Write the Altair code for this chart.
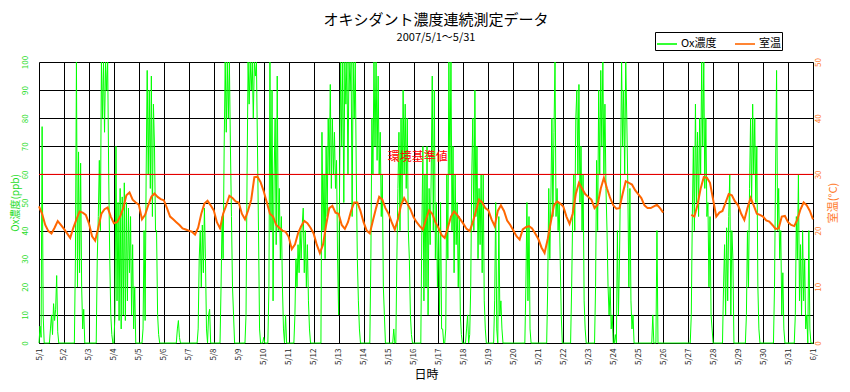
import altair as alt
import pandas as pd

JP = "Noto Sans CJK JP"
GREEN = "#00ff00"
GREEN_TXT = "#1fdc1f"
ORANGE = "#ff6600"
ORANGE_TXT = "#ff7a2a"

TITLE = "オキシダント濃度連続測定データ"
SUBTITLE = "2007/5/1～5/31"
SERIES = ["Ox濃度", "室温"]
DAY_LABELS = [f"5/{d}" for d in range(1, 32)] + ["6/1"]
LIMIT = 60
LIMIT_LABEL = "環境基準値"
LIMIT_LABEL_HOUR = 364

# hourly Ox concentration (ppb), 0h..23h for each day
ox_0501 = [0, 6, 2, 77, 10, 0, 0, 0, 0, 0, 0, 5, 10, 3, 14, 8, 12, 24, 4, 0, 0, 0, 0, 0]
ox_0502 = [0, 0, 0, 0, 0, 0, 0, 0, 0, 0, 0, 30, 100, 20, 68, 25, 64, 20, 5, 12, 0, 0, 0, 0]
ox_0503 = [0, 0, 0, 0, 0, 0, 0, 0, 30, 45, 65, 40, 100, 80, 100, 75, 100, 90, 100, 60, 30, 10, 3, 0]
ox_0504 = [0, 10, 70, 15, 50, 8, 55, 5, 52, 10, 57, 8, 50, 15, 48, 25, 45, 10, 35, 5, 20, 0, 0, 0]
ox_0505 = [0, 0, 0, 0, 5, 40, 8, 60, 97, 60, 90, 55, 95, 45, 85, 70, 40, 40, 10, 3, 0, 0, 0, 0]
ox_0506 = [0, 0, 0, 0, 0, 0, 0, 0, 0, 0, 0, 0, 0, 5, 8, 2, 0, 0, 0, 0, 0, 0, 0, 0]
ox_0507 = [0, 0, 0, 0, 0, 0, 0, 0, 0, 5, 30, 40, 20, 42, 25, 48, 30, 5, 0, 10, 12, 0, 0, 0]
ox_0508 = [0, 0, 0, 0, 0, 0, 0, 20, 45, 30, 70, 100, 75, 100, 80, 100, 70, 45, 20, 10, 0, 0, 0, 0]
ox_0509 = [0, 0, 0, 0, 0, 0, 0, 10, 60, 100, 85, 100, 90, 100, 80, 100, 95, 100, 70, 40, 5, 0, 0, 0]
ox_0510 = [2, 0, 0, 0, 0, 20, 100, 40, 90, 15, 60, 80, 35, 95, 40, 55, 30, 45, 20, 5, 0, 10, 0, 0]
ox_0511 = [0, 0, 0, 0, 0, 0, 10, 30, 20, 35, 25, 40, 30, 42, 48, 25, 40, 20, 35, 15, 5, 0, 0, 0]
ox_0512 = [0, 0, 0, 0, 0, 0, 0, 0, 75, 40, 60, 30, 70, 45, 80, 60, 92, 55, 80, 60, 75, 55, 65, 30]
ox_0513 = [10, 60, 100, 70, 100, 50, 100, 85, 100, 60, 100, 90, 100, 45, 100, 80, 100, 60, 30, 15, 5, 0, 0, 0]
ox_0514 = [0, 0, 0, 0, 0, 0, 0, 30, 80, 60, 100, 70, 100, 65, 95, 60, 75, 45, 60, 20, 10, 0, 0, 0]
ox_0515 = [0, 0, 0, 0, 0, 5, 0, 0, 30, 55, 75, 40, 80, 50, 90, 60, 85, 55, 80, 40, 30, 10, 3, 0]
ox_0516 = [0, 0, 0, 0, 0, 0, 0, 0, 40, 70, 15, 60, 20, 70, 10, 55, 35, 60, 95, 40, 90, 30, 50, 20]
ox_0517 = [40, 10, 50, 5, 5, 0, 0, 5, 60, 30, 100, 60, 100, 40, 70, 25, 60, 35, 50, 20, 45, 10, 3, 0]
ox_0518 = [0, 0, 0, 5, 10, 0, 3, 20, 60, 80, 40, 90, 45, 70, 30, 55, 35, 60, 25, 60, 15, 5, 0, 0]
ox_0519 = [0, 0, 0, 0, 0, 0, 15, 50, 5, 0, 45, 10, 15, 5, 0, 0, 0, 0, 0, 0, 0, 0, 0, 0]
ox_0520 = [0, 0, 0, 0, 0, 0, 0, 0, 0, 0, 0, 0, 20, 50, 15, 45, 5, 0, 0, 0, 0, 0, 0, 0]
ox_0521 = [0, 0, 0, 0, 0, 0, 0, 0, 0, 20, 55, 30, 50, 80, 45, 75, 100, 45, 55, 40, 50, 30, 10, 0]
ox_0522 = [0, 0, 0, 0, 0, 0, 0, 0, 20, 45, 60, 40, 80, 90, 60, 92, 50, 70, 40, 60, 15, 5, 0, 0]
ox_0523 = [0, 0, 0, 0, 0, 0, 0, 20, 65, 40, 90, 60, 97, 70, 100, 60, 85, 55, 40, 20, 10, 20, 5, 10]
ox_0524 = [0, 0, 3, 0, 40, 10, 30, 60, 100, 70, 90, 60, 100, 80, 55, 20, 55, 15, 5, 10, 0, 0, 0, 0]
ox_0525 = [0, 0, 0, 0, 0, 0, 0, 0, 0, 0, 0, 0, 0, 0, 10, 0, 0, 0, 40, 0, 0, 0, 0, 0]
ox_0526 = [0, 0, 0, 0, 0, 0, 0, 0, 0, 0, 0, 0, 0, 0, 0, 0, 0, 0, 0, 0, 0, 0, 0, 0]
ox_0527 = [0, 0, 0, 10, 45, 70, 40, 85, 50, 75, 45, 80, 60, 100, 70, 100, 55, 80, 45, 50, 20, 45, 10, 5]
ox_0528 = [0, 0, 0, 0, 0, 0, 0, 0, 0, 0, 20, 35, 10, 41, 15, 45, 60, 10, 40, 30, 0, 0, 0, 0]
ox_0529 = [0, 0, 0, 0, 0, 0, 0, 0, 10, 40, 20, 55, 80, 50, 85, 60, 80, 50, 70, 20, 5, 0, 0, 0]
ox_0530 = [0, 0, 0, 0, 0, 0, 0, 0, 0, 0, 0, 20, 60, 97, 40, 55, 30, 40, 10, 25, 5, 0, 0, 0]
ox_0531 = [0, 0, 0, 0, 0, 0, 0, 10, 45, 30, 60, 15, 35, 10, 40, 15, 30, 5, 10, 0, 40, 5, 0, 0]
ox_0601 = [0]

# room temperature (deg C), every 3 hours (0h, 3h, ... 21h); None = no data
tmp_0501 = [24.3, 23.0, 21.0, 19.9, 19.5, 20.5, 21.7, 21.0]
tmp_0502 = [20.3, 19.5, 18.7, 20.5, 22.0, 23.4, 23.2, 22.8]
tmp_0503 = [21.3, 19.0, 18.2, 20.5, 23.0, 23.8, 24.1, 22.5]
tmp_0504 = [21.3, 21.5, 22.5, 24.0, 26.3, 26.8, 25.5, 25.0]
tmp_0505 = [24.6, 22.0, 22.8, 24.5, 26.0, 26.6, 26.0, 25.6]
tmp_0506 = [25.4, 24.0, 22.5, 22.0, 21.5, 21.0, 20.4, 20.2]
tmp_0507 = [20.0, 19.8, 19.3, 20.5, 23.0, 24.8, 25.3, 24.5]
tmp_0508 = [23.6, 21.5, 20.4, 23.0, 24.5, 26.2, 25.8, 25.2]
tmp_0509 = [25.0, 23.0, 22.0, 23.6, 25.5, 29.5, 29.6, 28.6]
tmp_0510 = [27.0, 25.0, 23.0, 22.5, 21.0, 20.5, 20.0, 19.8]
tmp_0511 = [18.9, 16.7, 17.5, 19.5, 20.8, 21.7, 21.3, 20.5]
tmp_0512 = [19.5, 17.5, 16.0, 17.5, 21.0, 24.0, 24.4, 23.2]
tmp_0513 = [23.0, 21.0, 20.3, 21.5, 23.5, 25.0, 25.0, 23.5]
tmp_0514 = [21.5, 20.0, 19.5, 21.8, 24.0, 26.0, 25.5, 24.0]
tmp_0515 = [23.0, 21.5, 20.2, 22.0, 24.5, 25.8, 24.8, 23.8]
tmp_0516 = [22.4, 21.5, 20.8, 20.2, 22.0, 23.6, 23.0, 21.5]
tmp_0517 = [20.5, 19.2, 18.7, 20.5, 22.5, 23.4, 22.8, 22.0]
tmp_0518 = [21.2, 20.3, 19.9, 21.5, 23.5, 25.5, 25.0, 24.0]
tmp_0519 = [23.6, 22.0, 20.8, 23.5, 24.5, 23.5, 21.8, 21.0]
tmp_0520 = [20.0, 19.0, 18.4, 20.2, 20.6, 20.8, 20.4, 19.5]
tmp_0521 = [18.5, 17.0, 16.0, 18.5, 21.5, 24.5, 25.2, 24.8]
tmp_0522 = [24.3, 22.5, 21.2, 23.0, 26.5, 28.5, 27.5, 26.5]
tmp_0523 = [26.0, 25.5, 24.0, 24.6, 27.5, 29.4, 27.5, 25.8]
tmp_0524 = [24.5, 23.9, 24.0, 26.5, 28.8, 28.5, 28.2, 27.2]
tmp_0525 = [26.5, 25.8, 24.5, 24.0, 24.0, 24.3, 24.6, 24.0]
tmp_0526 = [23.2, None, None, None, None, None, None, None]
tmp_0527 = [None, 22.8, 22.5, 24.6, 27.5, 29.5, 29.4, 28.5]
tmp_0528 = [25.5, 22.5, 23.2, 23.5, 25.0, 26.5, 26.3, 25.2]
tmp_0529 = [24.5, 23.0, 21.9, 24.0, 25.8, 24.5, 23.0, 22.8]
tmp_0530 = [22.5, 21.8, 21.6, 21.0, 20.3, 20.4, 22.5, 22.6]
tmp_0531 = [21.5, 21.0, 20.8, 22.0, 23.8, 25.0, 24.5, 23.5]
tmp_0601 = [22.0]

OX_DAYS = [ox_0501, ox_0502, ox_0503, ox_0504, ox_0505, ox_0506, ox_0507, ox_0508,
           ox_0509, ox_0510, ox_0511, ox_0512, ox_0513, ox_0514, ox_0515, ox_0516,
           ox_0517, ox_0518, ox_0519, ox_0520, ox_0521, ox_0522, ox_0523, ox_0524,
           ox_0525, ox_0526, ox_0527, ox_0528, ox_0529, ox_0530, ox_0531, ox_0601]
TMP_DAYS = [tmp_0501, tmp_0502, tmp_0503, tmp_0504, tmp_0505, tmp_0506, tmp_0507, tmp_0508,
            tmp_0509, tmp_0510, tmp_0511, tmp_0512, tmp_0513, tmp_0514, tmp_0515, tmp_0516,
            tmp_0517, tmp_0518, tmp_0519, tmp_0520, tmp_0521, tmp_0522, tmp_0523, tmp_0524,
            tmp_0525, tmp_0526, tmp_0527, tmp_0528, tmp_0529, tmp_0530, tmp_0531, tmp_0601]

ox_rows = []
for d, vals in enumerate(OX_DAYS):
    for h, v in enumerate(vals):
        ox_rows.append({"h": d * 24 + h, "v": v, "s": SERIES[0]})
ox_df = pd.DataFrame(ox_rows)

tmp_rows = []
seg = 0
prev_missing = False
for d, vals in enumerate(TMP_DAYS):
    for k, v in enumerate(vals):
        if v is None:
            prev_missing = True
            continue
        if prev_missing:
            seg += 1
            prev_missing = False
        tmp_rows.append({"h": d * 24 + k * 3, "t": v, "s": SERIES[1], "seg": seg})
tmp_df = pd.DataFrame(tmp_rows)

W, H = 774, 281
NH = 24 * (len(DAY_LABELS) - 1)
label_array = "[" + ",".join(f"'{s}'" for s in DAY_LABELS) + "]"

x_enc = alt.X(
    "h:Q",
    scale=alt.Scale(domain=[0, NH], nice=False, zero=False),
    axis=alt.Axis(
        values=list(range(0, NH + 1, 24)),
        labelExpr=f"{label_array}[round(datum.value/24)]",
        labelAngle=270, labelAlign="right", labelBaseline="middle",
        labelFontSize=8, labelColor="#222222", labelPadding=5, labelFont=JP,
        labelOverlap=False, labelFlush=False,
        ticks=False, tickSize=0, domain=True, domainColor="black", domainWidth=1,
        grid=True, gridColor="black", gridWidth=1, gridOpacity=1,
        title="日時", titleFontSize=12, titleFontWeight="normal", titleColor="black",
        titleFont=JP, titleY=31, titleBaseline="middle",
    ),
)

y_left = alt.Y(
    "v:Q",
    scale=alt.Scale(domain=[0, 100], nice=False, zero=True),
    axis=alt.Axis(
        values=list(range(0, 101, 10)), orient="left",
        labelAngle=270, labelAlign="center", labelBaseline="bottom",
        labelFontSize=8, labelColor=GREEN_TXT, labelPadding=10, labelFont=JP,
        labelFlush=False, labelOverlap=False,
        ticks=False, tickSize=0, domain=False,
        grid=True, gridColor="black", gridWidth=1, gridOpacity=1,
        title="Ox濃度(ppb)", titleColor=GREEN_TXT, titleFontSize=10,
        titleFontWeight="normal", titleFont=JP, titleAngle=270, titlePadding=1,
    ),
)

y_right = alt.Y(
    "t:Q",
    scale=alt.Scale(domain=[0, 50], nice=False, zero=True),
    axis=alt.Axis(
        values=list(range(0, 51, 10)), orient="right",
        labelAngle=270, labelAlign="center", labelBaseline="top",
        labelFontSize=8, labelColor=ORANGE_TXT, labelPadding=1, labelFont=JP,
        labelFlush=False, labelOverlap=False,
        ticks=False, tickSize=0, domain=False, grid=False,
        title="室温(°C)", titleColor=ORANGE_TXT, titleFontSize=11,
        titleFontWeight="normal", titleFont=JP, titleAngle=270, titlePadding=16,
    ),
)

legend = alt.Legend(
    orient="none", legendX=616, legendY=-30, direction="horizontal", title=None,
    symbolType="stroke", symbolSize=400, symbolStrokeWidth=1.6,
    labelFontSize=11, labelFont=JP, labelColor="black", labelOffset=3,
    strokeColor="black", fillColor="white", padding=1, columnPadding=14,
)
color_enc = alt.Color("s:N", scale=alt.Scale(domain=SERIES, range=[GREEN, ORANGE]), legend=legend)

ox_line = alt.Chart(ox_df).mark_line(strokeWidth=1).encode(x=x_enc, y=y_left, color=color_enc)

limit_df = pd.DataFrame({"v": [LIMIT]})
limit_rule = alt.Chart(limit_df).mark_rule(color="#ff0000", strokeWidth=1).encode(y=y_left)

label_df = pd.DataFrame({"h": [LIMIT_LABEL_HOUR], "v": [LIMIT], "txt": [LIMIT_LABEL]})
limit_text = alt.Chart(label_df).mark_text(
    color="#ff0000", fontSize=12, font=JP, dy=-17, align="center", baseline="middle"
).encode(x=x_enc, y=y_left, text="txt:N")

tmp_line = alt.Chart(tmp_df).mark_line(strokeWidth=2).encode(
    x=x_enc, y=y_right, color=color_enc, detail="seg:N"
)

left = alt.layer(ox_line, limit_rule, limit_text)
chart = (
    alt.layer(left, tmp_line)
    .resolve_scale(y="independent")
    .properties(
        width=W, height=H,
        autosize=alt.AutoSizeParams(type="none"),
        padding={"left": 31, "top": 54, "right": 29, "bottom": 40},
        title=alt.TitleParams(
            text=TITLE, subtitle=SUBTITLE, fontSize=15, fontWeight="normal",
            subtitleFontSize=11, anchor="middle", frame="group", dx=10, offset=-11,
            subtitlePadding=4, color="black", subtitleColor="black",
            font=JP, subtitleFont=JP,
        ),
    )
    .configure_view(stroke="#888888")
    .configure(font=JP, background="white")
)

chart.save("out.html", embed_options={"renderer": "svg", "actions": False})
